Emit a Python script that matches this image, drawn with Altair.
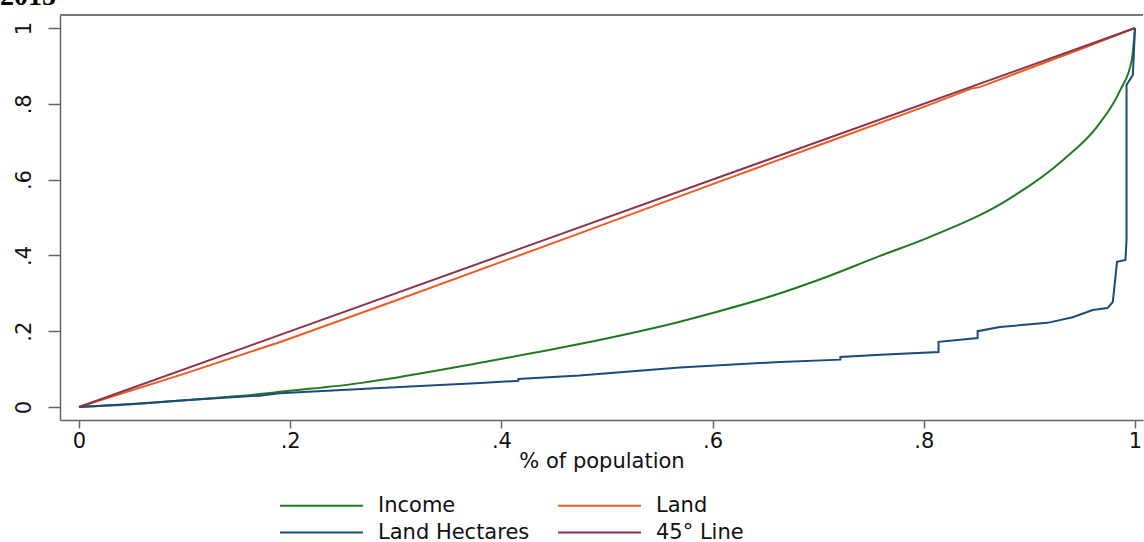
import altair as alt
import pandas as pd

# Lorenz curves: cumulative share of population vs cumulative share of the variable
income_x = [0.0, 0.05, 0.10, 0.171, 0.19, 0.266, 0.285, 0.38, 0.474, 0.569, 0.60, 0.664,
            0.70, 0.758, 0.806, 0.879, 0.932, 0.964, 0.986, 0.997, 1.0]
income_y = [0.0, 0.007, 0.018, 0.034, 0.040, 0.063, 0.071, 0.117, 0.166, 0.225, 0.248, 0.300,
            0.335, 0.398, 0.449, 0.546, 0.652, 0.739, 0.836, 0.916, 1.0]

land_x = [0.0, 0.1, 0.19, 0.3, 0.474, 0.6, 0.7, 0.8, 0.845, 0.853, 0.95, 1.0]
land_y = [0.0, 0.088, 0.171, 0.281, 0.458, 0.588, 0.690, 0.792, 0.840, 0.844, 0.946, 1.0]

hect_x = [0.0, 0.05, 0.10, 0.171, 0.19, 0.285, 0.38, 0.416, 0.416, 0.474, 0.569, 0.664,
          0.721, 0.721, 0.759, 0.814, 0.814, 0.851, 0.851, 0.872, 0.917, 0.941, 0.960,
          0.974, 0.979, 0.983, 0.991, 0.992, 0.992, 0.998, 1.0]
hect_y = [0.0, 0.008, 0.018, 0.030, 0.036, 0.050, 0.063, 0.069, 0.074, 0.083, 0.104, 0.119,
          0.125, 0.132, 0.138, 0.145, 0.172, 0.182, 0.200, 0.211, 0.222, 0.237, 0.256,
          0.261, 0.277, 0.383, 0.388, 0.441, 0.850, 0.876, 1.0]

diag_x = [0.0, 1.0]
diag_y = [0.0, 1.0]

series_names = ["Income", "Land", "Land Hectares", "45° Line"]
series_colors = ["#217a21", "#f05a24", "#1c4b7c", "#8a3549"]

rows = []
for name, xs, ys in zip(series_names,
                        [income_x, land_x, hect_x, diag_x],
                        [income_y, land_y, hect_y, diag_y]):
    for i, (x, y) in enumerate(zip(xs, ys)):
        rows.append({"series": name, "pop": x, "share": y, "idx": i})
df = pd.DataFrame(rows)

tick_vals = [0, 0.2, 0.4, 0.6, 0.8, 1]
tick_fmt = "datum.value == 0 ? '0' : datum.value == 1 ? '1' : replace(format(datum.value, '.1f'), '0.', '.')"

W, H = 1083, 405
FONT = "DejaVu Sans"

x_enc = alt.X("pop:Q",
              scale=alt.Scale(domain=[-0.018, 1.0076], nice=False, zero=False),
              axis=alt.Axis(values=tick_vals, labelExpr=tick_fmt, grid=False,
                            tickSize=8, labelPadding=2, labelFontSize=21,
                            title="% of population", titleFontSize=21,
                            titleFontWeight="normal", titleBaseline="alphabetic",
                            titleY=47))
y_enc = alt.Y("share:Q",
              scale=alt.Scale(domain=[-0.0343, 1.0343], nice=False, zero=False),
              axis=alt.Axis(values=tick_vals, labelExpr=tick_fmt, grid=False,
                            tickSize=12, labelPadding=18, labelFontSize=21,
                            labelAngle=270, labelAlign="center",
                            labelBaseline="alphabetic", title=None))
color_enc = alt.Color("series:N",
                      scale=alt.Scale(domain=series_names, range=series_colors),
                      legend=alt.Legend(title=None, orient="none", direction="horizontal",
                                        legendX=250, legendY=479, columns=2,
                                        symbolType="M-4,0H4", symbolSize=430,
                                        symbolStrokeWidth=2, labelFontSize=21,
                                        labelOffset=45, columnPadding=24,
                                        rowPadding=5))

base = alt.Chart(df).encode(x=x_enc, y=y_enc, color=color_enc, order=alt.Order("idx:Q"))

# smooth income curve, piecewise-linear for the others (hectares has steps)
income_line = base.transform_filter(alt.datum.series == "Income").mark_line(
    strokeWidth=2, interpolate="monotone")
other_lines = base.transform_filter(alt.datum.series != "Income").mark_line(strokeWidth=2)

# top edge of the plot frame
frame_top = alt.Chart(alt.Data(values=[{}])).mark_rule(
    color="#777777", strokeWidth=2
).encode(x=alt.value(0), x2=alt.value(W), y=alt.value(0))

year_label = alt.Chart(alt.Data(values=[{"label": "2015"}])).mark_text(
    align="left", baseline="alphabetic", font="Liberation Serif", fontSize=28,
    fontWeight="bold", color="black"
).encode(text="label:N", x=alt.value(-60), y=alt.value(-10))

chart = alt.layer(income_line, other_lines, frame_top, year_label).properties(
    width=W, height=H,
    autosize=alt.AutoSizeParams(type="none"),
    padding={"left": 60, "top": 15, "right": 1, "bottom": 122},
).configure_view(stroke=None).configure_axis(
    domainColor="#666666", domainWidth=1.5, tickColor="#666666", tickWidth=1.5,
    labelColor="#111111", titleColor="#111111", labelFont=FONT, titleFont=FONT,
).configure_legend(labelFont=FONT, labelColor="#111111")

chart.save("out.html", embed_options={"renderer": "svg", "actions": False})
